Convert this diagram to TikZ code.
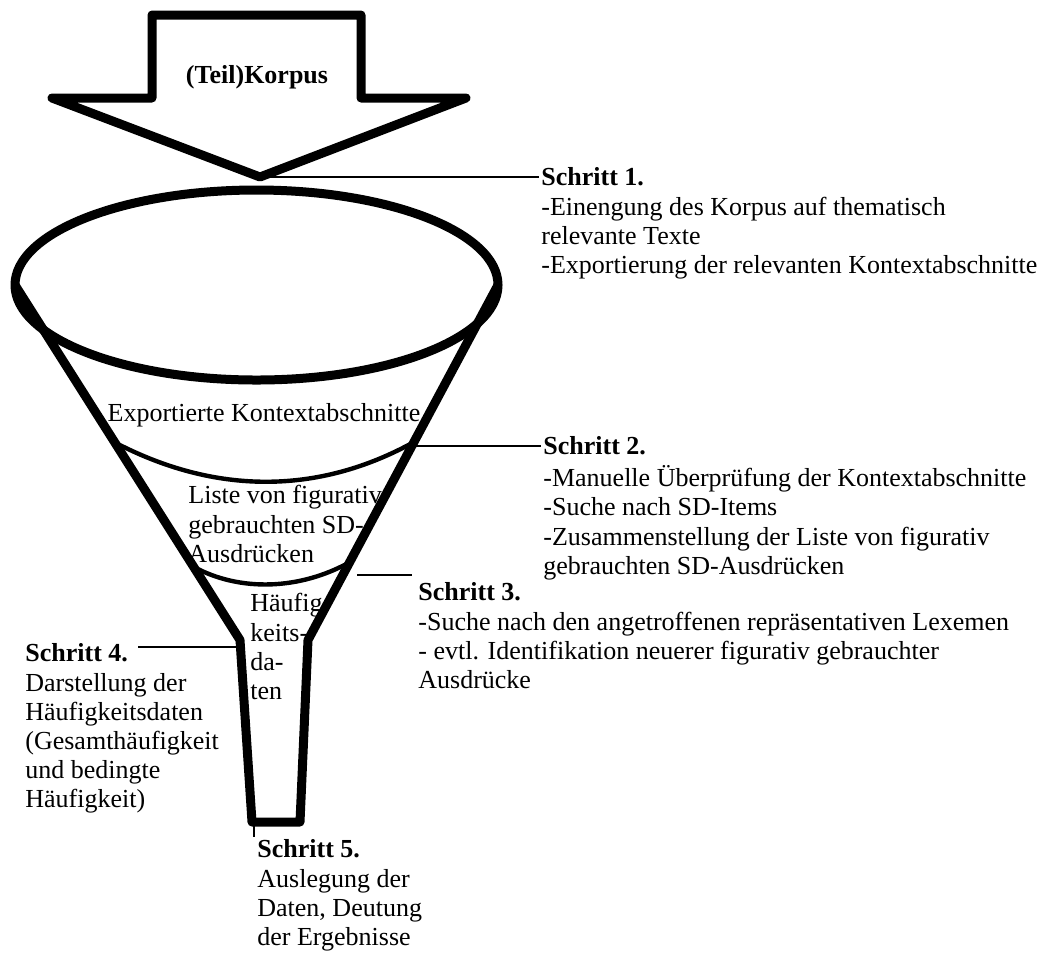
\documentclass[tikz,border=0pt]{standalone}
\usepackage{fontspec}
\setmainfont{Liberation Serif}
\usetikzlibrary{positioning,calc}

\begin{document}
\begin{tikzpicture}[x=0.5pt, y=-0.5pt,
    outline/.style={draw=black, line width=4.5pt, line join=round},
    band/.style={draw=black, line width=2.2pt},
    leader/.style={draw=black, line width=0.7pt},
    txt/.style={inner sep=0pt, font=\fontsize{13}{14.6}\selectfont},
    stepbox/.style={txt, align=left}
]
\useasboundingbox (0,0) rectangle (1053,955);

\draw[outline] (152,15) -- (361,15) -- (361,98) -- (466,98) -- (260,177) -- (52,98) -- (152,98) -- cycle;
\coordinate (tip) at (260,177);
\node[txt, font=\fontsize{13}{14.6}\selectfont\bfseries] (korpus) at (257,77) {(Teil)Korpus};

\draw[outline] (256.5,285) ellipse [x radius=120.75pt, y radius=47.5pt];
\draw[outline] (15,285) -- (240,640) -- (252,822) -- (300,822) -- (308,640) -- (498,285);
\draw[band] (114,442) .. controls (215,495) and (318,495) .. (414,442);
\draw[band] (194,567) .. controls (240,592) and (300,590) .. (350,562);

\node[txt] (export) at (264,415) {Exportierte Kontextabschnitte};
\node[stepbox, anchor=north west] (liste) at (188,483) {\strut Liste von figurativ\\gebrauchten SD-\\Ausdrücken};
\node[stepbox, anchor=north west] (haeufig) at (250,591) {\strut Häufig\\keits-\\da-\\ten};

\coordinate (k1) at (539,177);
\draw[leader] (tip) -- (k1);
\node[stepbox, below right=-6pt and 1pt of k1] (s1) {\strut\textbf{Schritt 1.}\\-Einengung des Korpus auf thematisch\\relevante Texte\\-Exportierung der relevanten Kontextabschnitte};

\coordinate (f2) at (414,446);
\coordinate (k2) at (541,446);
\draw[leader] (f2) -- (k2);
\node[stepbox, below right=-6pt and 1pt of k2] (s2) {\strut\textbf{Schritt 2.}\\-Manuelle Überprüfung der Kontextabschnitte\\-Suche nach SD-Items\\-Zusammenstellung der Liste von figurativ\\gebrauchten SD-Ausdrücken};

\coordinate (f3) at (357,575);
\coordinate (k3) at (412,575);
\draw[leader] (f3) -- (k3);
\node[stepbox, below right=2.5pt and 3pt of k3] (s3) {\strut\textbf{Schritt 3.}\\-Suche nach den angetroffenen repräsentativen Lexemen\\- evtl. Identifikation neuerer figurativ gebrauchter\\Ausdrücke};

\coordinate (k4) at (138,647);
\coordinate (f4) at (240,647);
\draw[leader] (k4) -- (f4);
\node[stepbox, anchor=north west] (s4) at (25,641) {\strut\textbf{Schritt 4.}\\Darstellung der\\Häufigkeitsdaten\\(Gesamthäufigkeit\\und bedingte\\Häufigkeit)};

\coordinate (k5) at (254,823);
\node[stepbox, below right=7pt and 1.5pt of k5] (s5) {\strut\textbf{Schritt 5.}\\Auslegung der\\Daten, Deutung\\der Ergebnisse};
\draw[leader] (k5) -- (k5 |- s5.north);

\end{tikzpicture}
\end{document}
